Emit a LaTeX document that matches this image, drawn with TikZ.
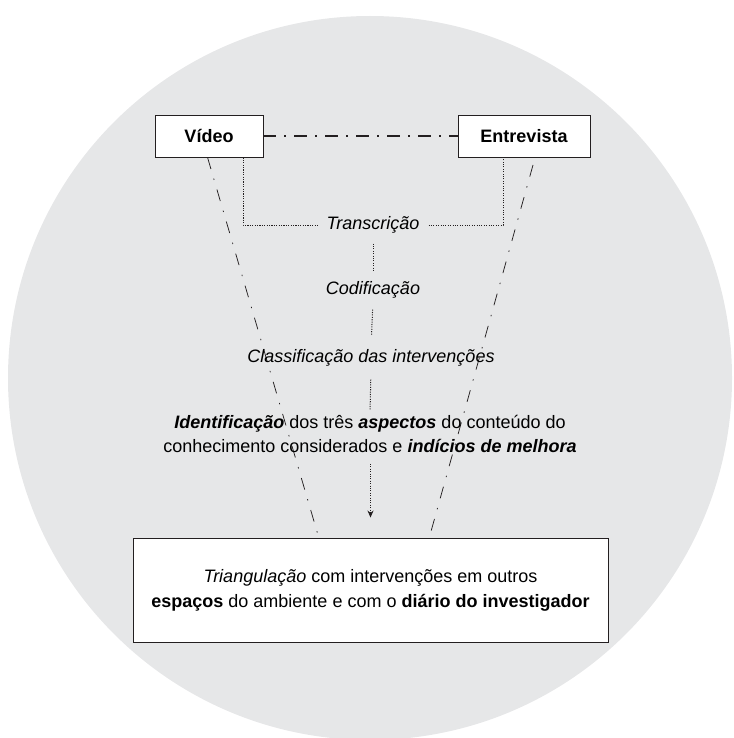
\documentclass[tikz,border=0pt]{standalone}
\usepackage{fontspec}
\setmainfont{Liberation Sans}
\usetikzlibrary{arrows.meta}
\definecolor{circlegray}{HTML}{E6E7E8}
\definecolor{linegray}{HTML}{231F20}
\begin{document}
\begin{tikzpicture}[x=1pt,y=-1pt,
  box/.style={draw=linegray,line width=0.9pt,fill=white,inner sep=0pt},
  lbl/.style={inner sep=2pt,font=\fontsize{18}{24}\selectfont},
  dotline/.style={draw=linegray,line width=1pt,dash pattern=on 1.1pt off 1.3pt},
  longdashdot/.style={draw=linegray,line width=0.75pt,dash pattern=on 12pt off 10pt on 1.4pt off 10pt},
  boxdashdot/.style={draw=linegray,line width=1.6pt,dash pattern=on 13pt off 8pt on 2pt off 8pt}]
\useasboundingbox (0,0) rectangle (733,738);
\clip (0,0) rectangle (733,738);
\fill[circlegray] (370,378) circle[radius=362];

% nodes
\node[box,minimum width=108pt,minimum height=42pt,font=\fontsize{18}{22}\selectfont\bfseries] (video) at (209,136) {Vídeo};
\node[box,minimum width=132pt,minimum height=42pt,font=\fontsize{18}{22}\selectfont\bfseries] (entrev) at (524,136) {Entrevista};
\node[box,minimum width=475pt,minimum height=104pt,align=center,font=\fontsize{18}{25}\selectfont] (triang) at (370.5,590)
  {\textit{Triangulação} com intervenções em outros\\\textbf{espaços} do ambiente e com o \textbf{diário do investigador}};

% slanted long dash-dot lines (behind texts)
\coordinate (lfoot) at (318,535);
\coordinate (rtop) at (533,165);
\coordinate (rfoot) at (430,535);
\path (video.south west) ++(53,0) coordinate (ltop);
\draw[longdashdot] (ltop) -- (lfoot);
\draw[longdashdot] (rtop) -- (rfoot);

% text nodes
\node[lbl,inner xsep=9pt,font=\fontsize{18}{24}\selectfont\itshape] (trans) at (373,225) {Transcrição};
\node[lbl,font=\fontsize{18}{24}\selectfont\itshape] (codif) at (373,290) {Codificação};
\node[lbl,font=\fontsize{18}{24}\selectfont\itshape] (classif) at (371,358) {Classificação das intervenções};
\node[lbl,align=center] (ident) at (370,434)
  {\textbf{\textit{Identificação}} dos três \textbf{\textit{aspectos}} do conteúdo do\\conhecimento considerados e \textbf{\textit{indícios de melhora}}};

% connectors
\draw[boxdashdot] (video.east) -- (entrev.east -| entrev.west);
\coordinate (vdrop) at (243,225);
\coordinate (edrop) at (503,225);
\draw[dotline] (video.south -| vdrop) -- (vdrop) -- (trans.west);
\draw[dotline] (trans.east) -- (edrop) -- (entrev.south -| edrop);
\draw[dotline,shorten <=8pt,shorten >=8pt] (trans.south) -- (codif.north);
\draw[dotline,shorten <=9pt,shorten >=12pt] (codif.south) -- (classif.north);
\draw[dotline,shorten <=11pt,shorten >=3pt] (classif.south) -- (ident.north);
\draw[dotline,-{Stealth[length=7pt,width=6pt]},shorten <=9pt,shorten >=20pt] (ident.south -| triang.north) -- (triang.north);
\end{tikzpicture}
\end{document}
